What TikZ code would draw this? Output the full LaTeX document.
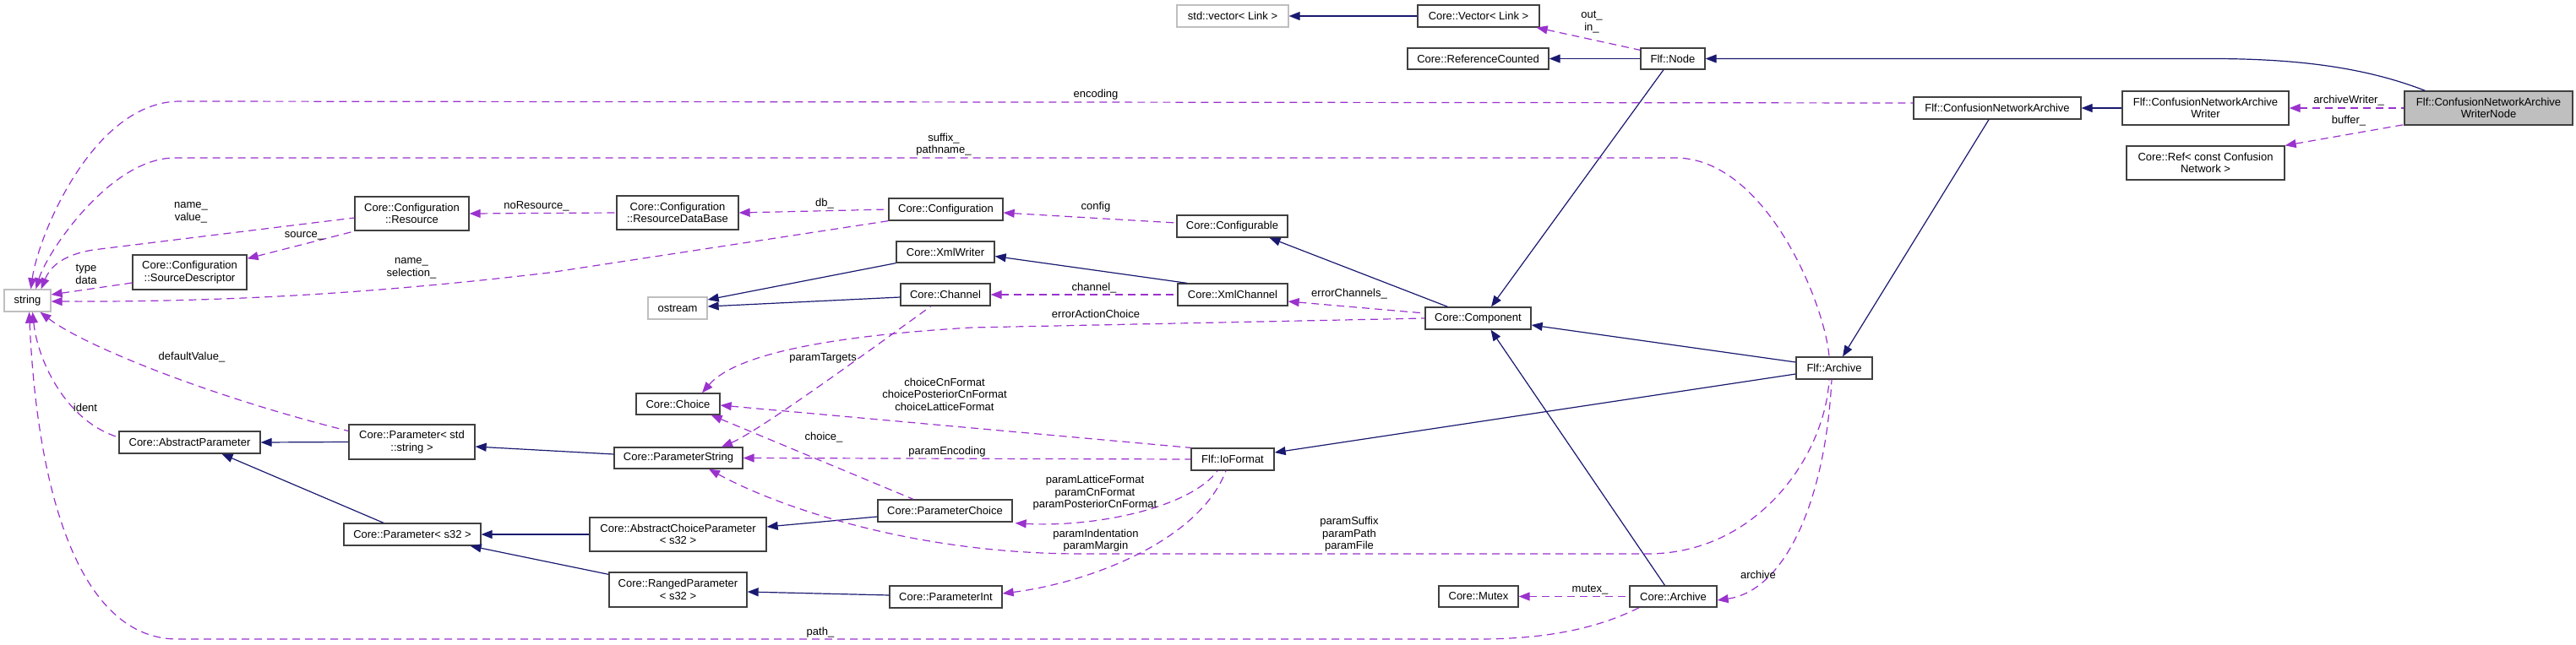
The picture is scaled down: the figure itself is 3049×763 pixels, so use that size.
\documentclass[tikz,border=0pt]{standalone}
\usepackage{fontspec}
\setmainfont{Liberation Sans}
\usetikzlibrary{arrows.meta,calc}
\definecolor{navy}{HTML}{191970}
\definecolor{purp}{HTML}{9A32CD}
\definecolor{edgec}{HTML}{404040}
\definecolor{lgray}{HTML}{BFBFBF}
\newcommand{\dfont}{\fontsize{13}{14.5}\selectfont}
\begin{document}
\begin{tikzpicture}[x=1pt,y=-1pt,
  box/.style={draw=edgec, line width=1.3pt, fill=white, inner sep=0pt, align=center, font=\dfont, text=black},
  gbox/.style={box, draw=lgray},
  mbox/.style={box, fill=lgray},
  inh/.style={draw=navy, line width=1.2pt, arrows={Triangle[length=13pt,width=10pt,fill=navy]-}},
  use/.style={draw=purp, line width=1.2pt, dash pattern=on 9pt off 6pt, arrows={Triangle[length=13pt,width=10pt,fill=purp]-}},
  lbl/.style={font=\dfont, align=center, inner sep=0pt}]
\useasboundingbox (0,0) rectangle (3049,763);
% nodes
\node[gbox, minimum width=55pt, minimum height=26pt] (string) at (32.5,356) {string};
\node[box, minimum width=135pt, minimum height=40pt] (res) at (487.5,253) {Core::Configuration\\::Resource};
\node[box, minimum width=135pt, minimum height=41pt] (srcdesc) at (224.5,322.5) {Core::Configuration\\::SourceDescriptor};
\node[box, minimum width=144pt, minimum height=40pt] (rdb) at (802,252) {Core::Configuration\\::ResourceDataBase};
\node[box, minimum width=135pt, minimum height=26pt] (conf) at (1119.5,248) {Core::Configuration};
\node[box, minimum width=116pt, minimum height=25pt] (xmlw) at (1119,298.5) {Core::XmlWriter};
\node[box, minimum width=106pt, minimum height=26pt] (chan) at (1119,349) {Core::Channel};
\node[gbox, minimum width=70pt, minimum height=26pt] (ostream) at (802,365) {ostream};
\node[box, minimum width=99pt, minimum height=25pt] (choice) at (802.5,478.5) {Core::Choice};
\node[box, minimum width=152pt, minimum height=25pt] (pstr) at (803,542.5) {Core::ParameterString};
\node[box, minimum width=159pt, minimum height=26pt] (pchoice) at (1118.5,605) {Core::ParameterChoice};
\node[box, minimum width=209pt, minimum height=40pt] (acp) at (802.5,633) {Core::AbstractChoiceParameter\\< s32 >};
\node[box, minimum width=163pt, minimum height=41pt] (rp) at (802.5,698.5) {Core::RangedParameter\\< s32 >};
\node[box, minimum width=133pt, minimum height=26pt] (pint) at (1119.5,707) {Core::ParameterInt};
\node[box, minimum width=167pt, minimum height=26pt] (ap) at (224.5,524) {Core::AbstractParameter};
\node[box, minimum width=149pt, minimum height=41pt] (pstd) at (487.5,523.5) {Core::Parameter< std\\::string >};
\node[box, minimum width=162pt, minimum height=26pt] (ps32) at (488,633) {Core::Parameter< s32 >};
\node[gbox, minimum width=132pt, minimum height=26pt] (stdvec) at (1459,19) {std::vector< Link >};
\node[box, minimum width=144pt, minimum height=26pt] (vec) at (1750,19) {Core::Vector< Link >};
\node[box, minimum width=167pt, minimum height=25pt] (refc) at (1749.5,69.5) {Core::ReferenceCounted};
\node[box, minimum width=76pt, minimum height=25pt] (fnode) at (1980,69.5) {Flf::Node};
\node[box, minimum width=131pt, minimum height=26pt] (configurable) at (1458.5,268) {Core::Configurable};
\node[box, minimum width=130pt, minimum height=26pt] (xmlc) at (1459,349) {Core::XmlChannel};
\node[box, minimum width=125pt, minimum height=26pt] (comp) at (1749.5,377) {Core::Component};
\node[box, minimum width=90pt, minimum height=26pt] (farch) at (2171,436) {Flf::Archive};
\node[box, minimum width=98pt, minimum height=26pt] (iof) at (1459,544) {Flf::IoFormat};
\node[box, minimum width=94pt, minimum height=25pt] (mutex) at (1750,706.5) {Core::Mutex};
\node[box, minimum width=103pt, minimum height=25pt] (carch) at (1980.5,706.5) {Core::Archive};
\node[box, minimum width=198pt, minimum height=26pt] (cna) at (2364,128) {Flf::ConfusionNetworkArchive};
\node[box, minimum width=197pt, minimum height=40pt] (cnaw) at (2610.5,128) {Flf::ConfusionNetworkArchive\\Writer};
\node[box, minimum width=187pt, minimum height=40pt] (cref) at (2610.5,193) {Core::Ref< const Confusion\\Network >};
\node[mbox, minimum width=199pt, minimum height=40pt] (main) at (2945.5,128) {Flf::ConfusionNetworkArchive\\WriterNode};
% inheritance edges
\draw[inh] (stdvec.east) -- (vec.west);
\draw[inh] (refc.east) -- (fnode.west);
\draw[inh] (fnode.east) -- (2617,69.5) .. controls (2720,69.5) and (2800,80) .. ($(main.north west)+(25,0)$);
\draw[inh] ($(comp.north)+(15.5,0)$) -- ($(fnode.south)+(-11,0)$);
\draw[inh] (cna.east) -- (cnaw.west);
\draw[inh] ($(farch.north)+(10,0)$) -- ($(cna.south)+(-10,0)$);
\draw[inh] ($(configurable.south)+(44,0)$) -- ($(comp.north)+(-36,0)$);
\draw[inh] ($(comp.east)+(0,8)$) -- ($(farch.west)+(0,-7)$);
\draw[inh] ($(iof.east)+(0,-8)$) -- ($(farch.west)+(0,7)$);
\draw[inh] ($(comp.south)+(15,0)$) -- ($(carch.north)+(-10,0)$);
\draw[inh] ($(xmlw.east)+(0,5)$) -- ($(xmlc.north)+(-54,0)$);
\draw[inh] ($(ostream.east)+(0,-10)$) -- (xmlw.south west);
\draw[inh] ($(ostream.east)+(0,-2)$) -- ($(chan.west)+(0,3)$);
\draw[inh] (ap.east) -- (pstd.west);
\draw[inh] ($(ap.south)+(38,0)$) -- ($(ps32.north)+(-34,0)$);
\draw[inh] ($(pstd.east)+(0,5.5)$) -- ($(pstr.west)+(0,-4.5)$);
\draw[inh] (ps32.east) -- (acp.west);
\draw[inh] ($(ps32.south east)+(-13,0)$) -- ($(rp.north west)+(0,3)$);
\draw[inh] ($(acp.east)+(0,-9)$) -- ($(pchoice.west)+(0,7)$);
\draw[inh] ($(rp.east)+(0,2.5)$) -- ($(pint.west)+(0,-2)$);
% usage edges
\draw[use] (cnaw.east) -- (main.west);
\draw[use] (cref.north east) -- ($(main.south west)+(0,-1)$);
\draw[use] ($(vec.south east)+(-4,0)$) -- ($(fnode.north west)+(0,3)$);
\draw[use] ($(string.north)+(4,0)$) .. controls (45,280) and (110,120) .. (213,120) -- ($(cna.west)+(0,-6)$);
\draw[use] ($(string.north)+(10,0)$) .. controls (55,300) and (130,187) .. (207,187) -- (1983,187) .. controls (2090,187) and (2160,360) .. ($(farch.north)+(-6,0)$);
\draw[use] ($(string.north)+(16,0)$) .. controls (60,315) and (75,302) .. (110,296) -- ($(res.west)+(0,5)$);
\draw[use] ($(string.east)+(0,-7)$) -- ($(srcdesc.west)+(0,12.5)$);
\draw[use] ($(string.east)+(0,1)$) .. controls (300,358) and (480,343) .. (650,323) -- (conf.south west);
\draw[use] ($(string.south)+(15,0)$) .. controls (100,410) and (250,470) .. ($(pstd.west)+(0,-13)$);
\draw[use] ($(string.south)+(6,0)$) .. controls (45,430) and (80,500) .. ($(ap.west)+(0,-6)$);
\draw[use] ($(string.south)+(2,0)$) .. controls (45,600) and (100,757) .. (210,757) -- (1750,757) .. controls (1850,757) and (1905,737) .. ($(carch.south west)+(12,0)$);
\draw[use] (res.east) -- (rdb.west);
\draw[use] ($(srcdesc.north east)+(0,5)$) -- ($(res.south west)+(1,0)$);
\draw[use] (rdb.east) -- (conf.west);
\draw[use] ($(conf.east)+(0,4)$) -- ($(configurable.west)+(0,-4)$);
\draw[use] (chan.east) -- (xmlc.west);
\draw[use] ($(xmlc.east)+(0,8)$) -- ($(comp.west)+(0,-6)$);
\draw[use] ($(choice.north)+(28.5,0)$) .. controls (870,420) and (980,398) .. (1150,388) -- (comp.west);
\draw[use] ($(pstr.north)+(51,0)$) .. controls (900,510) and (1050,400) .. ($(chan.south)+(-17,0)$);
\draw[use] ($(choice.east)+(0,1.5)$) -- (iof.north west);
\draw[use] ($(choice.south east)+(-11,0)$) -- ($(pchoice.north)+(-37.5,0)$);
\draw[use] (pstr.east) -- (iof.west);
\draw[use] ($(pchoice.south east)+(3,1)$) .. controls (1300,625) and (1410,600) .. ($(iof.south)+(-18,0)$);
\draw[use] ($(pint.east)+(0,-4)$) .. controls (1290,690) and (1420,640) .. ($(iof.south)+(-8,0)$);
\draw[use] ($(pstr.south)+(36,0)$) .. controls (920,600) and (1080,656) .. (1280,656) -- (1950,656) .. controls (2080,656) and (2160,540) .. ($(farch.south)+(-6,0)$);
\draw[use] ($(carch.east)+(0,4.5)$) .. controls (2110,700) and (2160,600) .. ($(farch.south)+(-3,0)$);
\draw[use] (mutex.east) -- (carch.west);
% labels
\node[lbl] (l1) at (226,252) {name\_\\value\_};
\node[lbl] (l2) at (360,279) {source\_};
\node[lbl] (l3) at (102,325) {type\\data};
\node[lbl] (l4) at (487,318) {name\_\\selection\_};
\node[lbl] (l5) at (635,244) {noResource\_};
\node[lbl] (l6) at (976,241) {db\_};
\node[lbl] (l7) at (1297,245) {config};
\node[lbl] (l8) at (227,423) {defaultValue\_};
\node[lbl] (l9) at (101,483) {ident};
\node[lbl] (l10) at (1297,112) {encoding};
\node[lbl] (l11) at (1117,171) {suffix\_\\pathname\_};
\node[lbl] (l12) at (1295,341) {channel\_};
\node[lbl] (l13) at (1297,372) {errorActionChoice};
\node[lbl] (l14) at (1597,348) {errorChannels\_};
\node[lbl] (l15) at (974,424) {paramTargets};
\node[lbl] (l16) at (1118,467) {choiceCnFormat\\choicePosteriorCnFormat\\choiceLatticeFormat};
\node[lbl] (l17) at (975,518) {choice\_};
\node[lbl] (l18) at (1121,535) {paramEncoding};
\node[lbl] (l19) at (1296,584) {paramLatticeFormat\\paramCnFormat\\paramPosteriorCnFormat};
\node[lbl] (l20) at (1297,640) {paramIndentation\\paramMargin};
\node[lbl] (l21) at (971,749) {path\_};
\node[lbl] (l22) at (1597,633) {paramSuffix\\paramPath\\paramFile};
\node[lbl] (l23) at (1882,699) {mutex\_};
\node[lbl] (l24) at (2081,681) {archive};
\node[lbl] (l25) at (1884,26) {out\_\\in\_};
\node[lbl] (l26) at (2780,119) {archiveWriter\_};
\node[lbl] (l27) at (2780,143) {buffer\_};
\end{tikzpicture}
\end{document}
